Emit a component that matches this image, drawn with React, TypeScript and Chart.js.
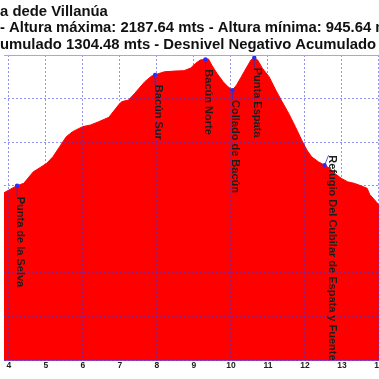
import { useEffect, useRef } from "react";
import { Chart, registerables } from "chart.js";

Chart.register(...registerables);

// ---- data ----
const distanceKm = [
  3.8, 3.87, 4.05, 4.22, 4.4, 4.66, 4.84, 5.02, 5.19, 5.37, 5.55, 5.72, 5.99, 6.21, 6.43, 6.7,
  6.96, 7.05, 7.23, 7.4, 7.67, 7.85, 7.95, 8.2, 8.46, 8.73, 8.91, 9.04, 9.17, 9.31, 9.39, 9.48,
  9.62, 9.79, 9.92, 10.04, 10.15, 10.28, 10.41, 10.54, 10.63, 10.72, 10.85, 11.03, 11.21, 11.38,
  11.56, 11.74, 11.91, 12.05, 12.18, 12.36, 12.53, 12.67, 12.8, 12.98, 13.15, 13.33, 13.51, 13.68,
  13.75, 13.92, 14.1, 14.4, 14.7, 15.0,
];
const elevationM = [
  1555, 1568, 1585, 1600, 1611, 1664, 1683, 1703, 1733, 1779, 1825, 1848, 1871, 1879, 1894, 1914,
  1970, 1986, 1993, 2024, 2077, 2103, 2109, 2123, 2126, 2128, 2140, 2161, 2177, 2180, 2182, 2154,
  2116, 2077, 2054, 2039, 2062, 2100, 2139, 2177, 2187.64, 2177, 2139, 2100, 2039, 1986,
  1932, 1871, 1810, 1764, 1733, 1710, 1694, 1680, 1657, 1634, 1618, 1611, 1600, 1588,
  1560, 1527, 1490, 1440, 1390, 1340,
];

const waypointNames = [
  "Punta de la Selva",
  "Bacún Sur",
  "Bacún Norte",
  "Collado de Bacún",
  "Punta Espata",
  "Refugio Del Cubilar de Espata y Fuente",
];
const waypointKm = [4.22, 7.95, 9.31, 10.04, 10.63, 12.53];
const waypointElev = [1600, 2109, 2180, 2039, 2187.64, 1694];

const xTickValues = [4, 5, 6, 7, 8, 9, 10, 11, 12, 13, 14];
const yTickValues = [800, 1000, 1200, 1400, 1600, 1800, 2000, 2200];

const titleLines = [
  "Ruta dede Villanúa",
  "Distancia: 15.21 km - Altura máxima: 2187.64 mts - Altura mínima: 945.64 mts",
  "Desnivel Positivo Acumulado 1304.48 mts - Desnivel Negativo Acumulado 1282.03 mts",
];
const titleHiddenPrefixes = ["Rut", "Distancia: 15.21 km ", "Desnivel Positivo Ac"];

// ---- styles ----
const FONT = "'Liberation Sans', Arial, sans-serif";
const GRID = "rgba(60,60,230,0.55)";
const titleBaselines = [15.5, 32, 48.5];
const labelOffsets = [
  { dx: 0, dy: 11 },
  { dx: 0, dy: 10 },
  { dx: 0, dy: 10 },
  { dx: 0, dy: 10 },
  { dx: 0, dy: 10 },
  { dx: 4, dy: -10 },
];

const decor = {
  id: "decor",
  afterDraw(chart: any) {
    const { ctx, chartArea } = chart;
    // top border
    ctx.save();
    ctx.strokeStyle = "#a6a6e6";
    ctx.lineWidth = 1;
    ctx.beginPath();
    ctx.moveTo(chartArea.left, chartArea.top + 0.5);
    ctx.lineTo(chartArea.right, chartArea.top + 0.5);
    ctx.stroke();
    ctx.restore();

    // waypoint labels
    const meta = chart.getDatasetMeta(0);
    ctx.save();
    ctx.beginPath();
    ctx.rect(chartArea.left, chartArea.top, chartArea.right - chartArea.left, chartArea.bottom - chartArea.top);
    ctx.clip();
    ctx.font = `bold 11px ${FONT}`;
    ctx.fillStyle = "#1c1c1c";
    ctx.textBaseline = "alphabetic";
    ctx.textAlign = "left";
    meta.data.forEach((pt: any, i: number) => {
      const off = labelOffsets[i];
      const lx = pt.x + off.dx;
      const ly = pt.y + off.dy;
      ctx.save();
      ctx.strokeStyle = "#3030c0";
      ctx.lineWidth = 0.8;
      ctx.beginPath();
      ctx.moveTo(pt.x, pt.y);
      ctx.lineTo(lx, ly);
      ctx.stroke();
      ctx.restore();
      ctx.save();
      ctx.translate(lx, ly);
      ctx.rotate(Math.PI / 2);
      ctx.fillText(waypointNames[i], 0, 0);
      ctx.restore();
    });
    ctx.restore();

    // title
    ctx.save();
    ctx.font = `bold 14.85px ${FONT}`;
    ctx.fillStyle = "#111111";
    ctx.textAlign = "left";
    ctx.textBaseline = "alphabetic";
    titleLines.forEach((line, i) => {
      const pre = ctx.measureText(titleHiddenPrefixes[i]).width;
      ctx.fillText(line, 0 - pre, titleBaselines[i]);
    });
    ctx.restore();
  },
};

export default function App() {
  const ref = useRef<HTMLCanvasElement>(null);

  useEffect(() => {
    const canvas = ref.current!;
    const chart = new Chart(canvas, {
      type: "line",
      data: {
        datasets: [
          {
            type: "scatter",
            data: waypointKm.map((x, i) => ({ x, y: waypointElev[i] })),
            pointRadius: 2.2,
            pointBackgroundColor: "#2a2aff",
            pointBorderWidth: 0,
            showLine: false,
            order: 0,
          } as any,
          {
            type: "line",
            data: distanceKm.map((x, i) => ({ x, y: elevationM[i] })),
            borderColor: "#ff0000",
            borderWidth: 1,
            backgroundColor: "#ff0000",
            fill: "start",
            pointRadius: 0,
            tension: 0,
            order: 1,
          },
        ],
      },
      options: {
        animation: false,
        responsive: false,
        devicePixelRatio: 1,
        layout: { padding: { top: 55, left: 0, right: 0, bottom: 0 } },
        plugins: {
          legend: { display: false },
          tooltip: { enabled: false },
          title: { display: false },
        },
        scales: {
          x: {
            type: "linear",
            min: 3.867,
            max: 15.0,
            afterBuildTicks: (s: any) => {
              s.ticks = xTickValues.map((v) => ({ value: v }));
            },
            afterFit: (s: any) => {
              s.height = 19;
            },
            grid: { color: GRID, z: 1, drawTicks: false, lineWidth: 1 },
            border: { display: true, color: "#a040b8", dash: [2, 2], z: 1 },
            ticks: {
              font: { size: 8.5, weight: "bold", family: FONT },
              color: "#222222",
              padding: 1,
              maxRotation: 0,
              autoSkip: false,
            },
          },
          y: {
            min: 800,
            max: 2200,
            afterBuildTicks: (s: any) => {
              s.ticks = yTickValues.map((v) => ({ value: v }));
            },
            afterFit: (s: any) => {
              s.width = 0;
            },
            ticks: { display: false },
            grid: { color: GRID, z: 1, drawTicks: false, lineWidth: 1 },
            border: { display: false, dash: [2, 2] },
          },
        },
      } as any,
      plugins: [decor],
    });
    return () => chart.destroy();
  }, []);

  return (
    <div
      style={{
        position: "fixed",
        left: 0,
        top: 0,
        width: 379,
        height: 379,
        overflow: "hidden",
        background: "#ffffff",
      }}
    >
      <canvas ref={ref} width={420} height={379} style={{ display: "block" }} />
    </div>
  );
}
